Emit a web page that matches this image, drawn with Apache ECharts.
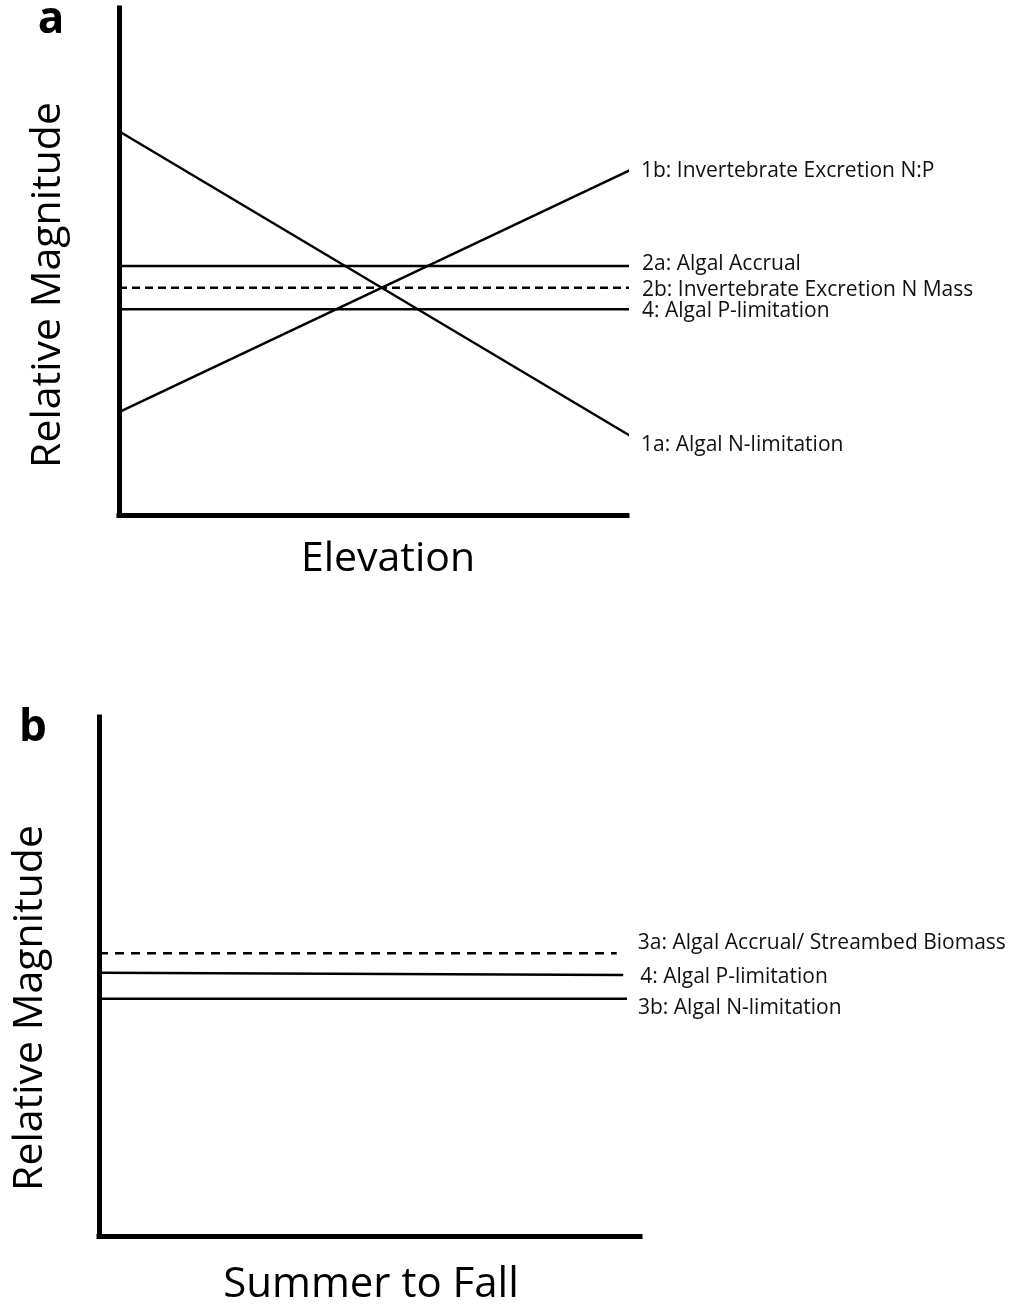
<!DOCTYPE html>
<html><head><meta charset="utf-8">
<script src="https://cdn.jsdelivr.net/npm/echarts@6/dist/echarts.min.js"></script>
<style>html,body{margin:0;padding:0;background:#fff}#c{width:1012px;height:1309px}</style>
</head><body><div id="c"></div>
<script>
// ---- data ----
const panelLetters = ['a', 'b'];
const xTitles = ['Elevation', 'Summer to Fall'];
const yTitle = 'Relative Magnitude';

const namesA = ['1a: Algal N-limitation', '1b: Invertebrate Excretion N:P', '2a: Algal Accrual', '2b: Invertebrate Excretion N Mass', '4: Algal P-limitation'];
const xStartA = [0, 0, 0, 0, 0];
const xEndA = [101, 101, 101, 101, 101];
const yStartA = [75.7, 20.3, 49.1, 44.8, 40.6];
const yEndA = [15.4, 68.2, 49.1, 44.8, 40.6];
const dashedA = [false, false, false, true, false];

const namesB = ['3a: Algal Accrual/ Streambed Biomass', '4: Algal P-limitation', '3b: Algal N-limitation'];
const xStartB = [0, 0, 0];
const xEndB = [95.7, 96.9, 97.6];
const yStartB = [54.5, 50.7, 45.7];
const yEndB = [54.5, 50.3, 45.7];
const dashedB = [true, false, false];

// ---- styling (label offsets per series) ----
const labelOffA = [[7, 10], [7, 0], [8, -2], [8, 2], [8, 2]];
const labelOffB = [[16, -10], [12, 2], [6, 9]];

const FONT = '"Open Sans", "Noto Sans", sans-serif';

function makeSeries(names, xs, xe, ys, ye, dashed, offs, gridIdx, dash) {
  return names.map((n, i) => ({
    type: 'line',
    name: n,
    xAxisIndex: gridIdx,
    yAxisIndex: gridIdx,
    data: [[xs[i], ys[i]], [xe[i], ye[i]]],
    symbol: 'none',
    clip: false,
    silent: true,
    lineStyle: { color: '#000', width: 2.5, type: dashed[i] ? dash : 'solid' },
    endLabel: {
      show: true,
      formatter: p => p.seriesName,
      distance: 5,
      offset: offs[i],
      color: '#111',
      fontFamily: FONT,
      fontSize: 21
    }
  }));
}

const axisCommon = {
  type: 'value', min: 0, max: 100,
  axisLine: { show: true, onZero: false, lineStyle: { color: '#000', width: 5, cap: 'square' } },
  axisTick: { show: false }, axisLabel: { show: false }, splitLine: { show: false }
};

const chart = echarts.init(document.getElementById('c'), null, { renderer: 'canvas' });
chart.setOption({
  animation: false,
  backgroundColor: '#fff',
  grid: [
    { left: 119, top: 8, width: 508, height: 507 },
    { left: 99, top: 717, width: 541, height: 519 }
  ],
  xAxis: [Object.assign({ gridIndex: 0 }, axisCommon), Object.assign({ gridIndex: 1 }, axisCommon)],
  yAxis: [Object.assign({ gridIndex: 0 }, axisCommon), Object.assign({ gridIndex: 1 }, axisCommon)],
  series: [
    ...makeSeries(namesA, xStartA, xEndA, yStartA, yEndA, dashedA, labelOffA, 0, [8, 5]),
    ...makeSeries(namesB, xStartB, xEndB, yStartB, yEndB, dashedB, labelOffB, 1, [9, 7])
  ],
  graphic: [
    { type: 'text', x: 51, y: 20, style: { text: panelLetters[0], font: 'bold 44px ' + FONT, fill: '#000', align: 'center', verticalAlign: 'middle' } },
    { type: 'text', x: 33, y: 728, style: { text: panelLetters[1], font: 'bold 44px ' + FONT, fill: '#000', align: 'center', verticalAlign: 'middle' } },
    { type: 'text', x: 48, y: 285, rotation: Math.PI / 2, style: { text: yTitle, font: '41px ' + FONT, fill: '#000', align: 'center', verticalAlign: 'middle' } },
    { type: 'text', x: 30, y: 1008, rotation: Math.PI / 2, style: { text: yTitle, font: '41px ' + FONT, fill: '#000', align: 'center', verticalAlign: 'middle' } },
    { type: 'text', x: 388, y: 559, style: { text: xTitles[0], font: '41px ' + FONT, fill: '#000', align: 'center', verticalAlign: 'middle' } },
    { type: 'text', x: 371, y: 1285, style: { text: xTitles[1], font: '42px ' + FONT, fill: '#000', align: 'center', verticalAlign: 'middle' } }
  ]
});
</script></body></html>
